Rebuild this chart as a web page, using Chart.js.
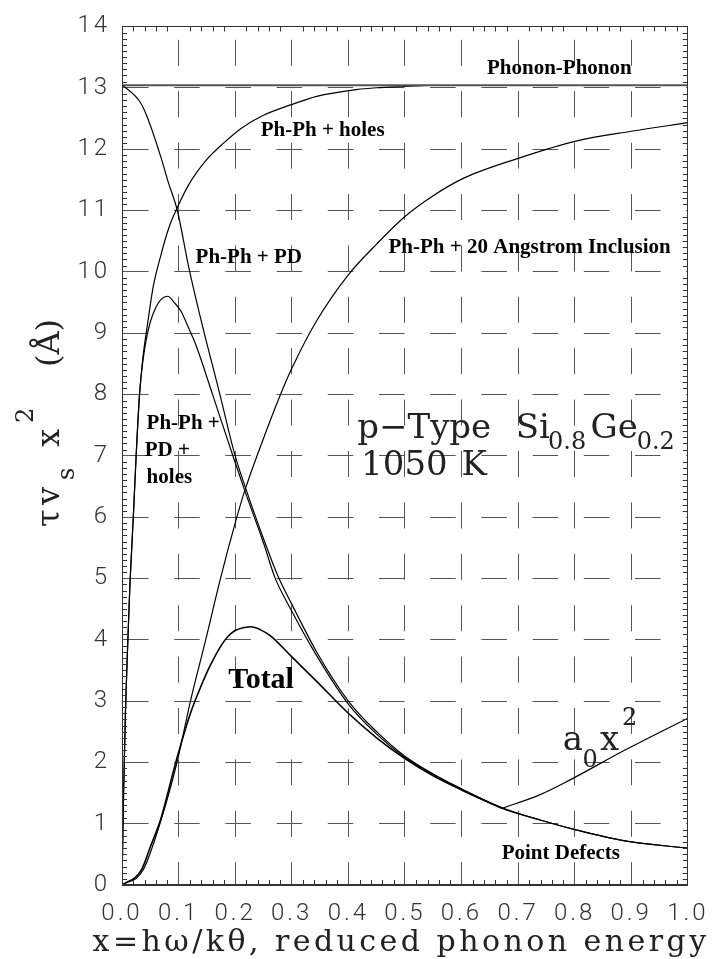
<!DOCTYPE html>
<html>
<head>
<meta charset="utf-8">
<script src="https://cdn.jsdelivr.net/npm/chart.js@4.4.0/dist/chart.umd.min.js"></script>
<style>
  html, body { margin: 0; padding: 0; background: #fff; }
</style>
</head>
<body>
<canvas id="myChart" width="719" height="959"></canvas>
<script>
// values: x = reduced phonon energy, y = tau*v_s*x^2 (Angstrom)
var phononX = [0, 1];
var phononY = [13.04, 13.04];

var holesX = [0, 0.003, 0.006, 0.01, 0.014, 0.02, 0.025, 0.031, 0.037, 0.046, 0.055, 0.069, 0.083, 0.098, 0.118, 0.15, 0.18, 0.211, 0.25, 0.298, 0.344, 0.414, 0.45, 0.5, 0.55];
var holesY = [0, 1.6, 2.8, 3.9, 4.9, 6.0, 7.0, 8.0, 8.6, 9.2, 9.75, 10.28, 10.72, 11.05, 11.42, 11.83, 12.1, 12.34, 12.55, 12.72, 12.86, 12.97, 13.0, 13.02, 13.04];

var pdX = [0, 0.031, 0.043, 0.069, 0.081, 0.098, 0.118, 0.14, 0.173, 0.199, 0.22, 0.25, 0.275, 0.3, 0.344, 0.4, 0.45, 0.5, 0.55, 0.6, 0.672, 0.739, 0.802, 0.889, 1.0];
var pdY = [13.05, 12.78, 12.56, 11.86, 11.48, 10.99, 10.07, 9.2, 8.0, 7.03, 6.43, 5.65, 5.05, 4.58, 3.8, 3.0, 2.5, 2.1, 1.81, 1.57, 1.26, 1.06, 0.9, 0.72, 0.6];

var pdHolesX = [0, 0.003, 0.006, 0.01, 0.014, 0.02, 0.025, 0.031, 0.037, 0.043, 0.05, 0.06, 0.069, 0.081, 0.092, 0.104, 0.115, 0.13, 0.16, 0.197, 0.217, 0.25, 0.27, 0.298, 0.344, 0.4, 0.45, 0.5, 0.55, 0.6, 0.672, 0.739, 0.802, 0.889, 1.0];
var pdHolesY = [0, 1.6, 2.8, 3.9, 4.9, 6.0, 7.0, 8.0, 8.55, 8.9, 9.18, 9.42, 9.55, 9.6, 9.5, 9.36, 9.14, 8.82, 8.0, 6.97, 6.43, 5.58, 5.02, 4.5, 3.74, 2.95, 2.46, 2.08, 1.8, 1.56, 1.25, 1.06, 0.9, 0.72, 0.6];

var inclX = [0, 0.037, 0.069, 0.098, 0.121, 0.148, 0.173, 0.2, 0.217, 0.25, 0.278, 0.3, 0.344, 0.4, 0.45, 0.5, 0.55, 0.605, 0.704, 0.802, 0.9, 1.0];
var inclY = [0, 0.24, 1.06, 2.03, 3.0, 4.0, 4.96, 5.9, 6.43, 7.28, 7.95, 8.42, 9.2, 9.95, 10.45, 10.9, 11.24, 11.53, 11.86, 12.13, 12.29, 12.43];

var totalX = [0, 0.034, 0.05, 0.069, 0.095, 0.121, 0.14, 0.156, 0.175, 0.188, 0.2, 0.217, 0.228, 0.245, 0.263, 0.298, 0.344, 0.4, 0.45, 0.5, 0.55, 0.6, 0.672];
var totalY = [0, 0.24, 0.62, 1.09, 2.0, 2.8, 3.25, 3.58, 3.9, 4.06, 4.15, 4.2, 4.21, 4.16, 4.06, 3.74, 3.32, 2.8, 2.4, 2.06, 1.78, 1.55, 1.25];

var a0X = [0.672, 0.738, 0.791, 0.889, 1.0];
var a0Y = [1.25, 1.47, 1.71, 2.2, 2.72];

var xTicks = [0, 0.1, 0.2, 0.3, 0.4, 0.5, 0.6, 0.7, 0.8, 0.9, 1.0];
var yTicks = [0, 1, 2, 3, 4, 5, 6, 7, 8, 9, 10, 11, 12, 13, 14];

function pts(xs, ys) {
  return xs.map(function (x, i) { return {x: x, y: ys[i]}; });
}

function line(label, xs, ys, extra) {
  var ds = {
    label: label,
    data: pts(xs, ys),
    borderColor: '#000',
    borderWidth: 1.2,
    pointRadius: 0,
    fill: false,
    cubicInterpolationMode: 'monotone'
  };
  for (var k in extra) ds[k] = extra[k];
  return ds;
}

var HERSHEY = '"DejaVu Serif", "Liberation Serif", serif';
var TIMES = '"Liberation Serif", "Times New Roman", serif';

function put(ctx, s, x, y, font, color) {
  ctx.font = font;
  ctx.fillStyle = color || '#000';
  ctx.textAlign = 'left';
  ctx.textBaseline = 'alphabetic';
  ctx.fillText(s, x, y);
}

var decorations = {
  id: 'decorations',
  beforeDraw: function (chart) {
    chart.ctx.letterSpacing = '3px';
  },
  afterDraw: function (chart) {
    var ctx = chart.ctx, a = chart.chartArea;
    var xs = chart.scales.x, ys = chart.scales.y;
    function px(v) { return xs.getPixelForValue(v); }
    function py(v) { return ys.getPixelForValue(v); }

    ctx.save();
    ctx.letterSpacing = '0px';

    // frame
    ctx.strokeStyle = '#333';
    ctx.lineWidth = 1;
    ctx.strokeRect(Math.round(a.left) + 0.5, Math.round(a.top) + 0.5,
                   Math.round(a.right - a.left) - 1, Math.round(a.bottom - a.top) - 1);

    // minor ticks, pointing inward
    ctx.beginPath();
    var i, p;
    for (i = 1; i < 140; i++) {
      if (i % 10 === 0) continue;
      p = Math.round(py(i / 10)) + 0.5;
      ctx.moveTo(a.left, p); ctx.lineTo(a.left + 5, p);
      ctx.moveTo(a.right, p); ctx.lineTo(a.right - 5, p);
    }
    for (i = 1; i < 50; i++) {
      if (i % 5 === 0) continue;
      p = Math.round(px(i / 50)) + 0.5;
      ctx.moveTo(p, a.bottom); ctx.lineTo(p, a.bottom - 5);
      ctx.moveTo(p, a.top); ctx.lineTo(p, a.top + 5);
    }
    ctx.stroke();

    // curve labels
    var bold = 'bold 21px ' + TIMES;
    put(ctx, 'Phonon-Phonon', px(0.645), py(13.22), bold);
    put(ctx, 'Ph-Ph + holes', px(0.245), py(12.21), bold);
    put(ctx, 'Ph-Ph + PD', px(0.130), py(10.14), bold);
    put(ctx, 'Ph-Ph + 20 Angstrom Inclusion', px(0.471), py(10.30), bold);
    put(ctx, 'Ph-Ph +', px(0.0435), py(7.44), bold);
    put(ctx, 'PD +', px(0.040), py(7.0), bold);
    put(ctx, 'holes', px(0.0435), py(6.56), bold);
    put(ctx, 'Total', px(0.188), py(3.22), 'bold 30px ' + TIMES);
    put(ctx, 'Point Defects', px(0.671), py(0.42), bold);

    // sample note
    var big = '34px ' + HERSHEY, small = '24px ' + HERSHEY, ink = '#222';
    put(ctx, 'p\u2212Type', px(0.4157), py(7.293), big, ink);
    put(ctx, 'Si', px(0.6957), py(7.293), big, ink);
    put(ctx, '0.8', px(0.753), py(7.114), small, ink);
    put(ctx, 'Ge', px(0.828), py(7.293), big, ink);
    put(ctx, '0.2', px(0.9096), py(7.114), small, ink);
    put(ctx, '1050', px(0.4226), py(6.69), big, ink);
    put(ctx, 'K', px(0.60), py(6.69), big, ink);

    // a0 x^2
    put(ctx, 'a', px(0.779), py(2.198), big, ink);
    put(ctx, '0', px(0.814), py(1.921), small, ink);
    put(ctx, 'x', px(0.845), py(2.198), big, ink);
    put(ctx, '2', px(0.8835), py(2.605), small, ink);

    // x axis title
    var xt = 'x=h\u03c9/k\u03b8, reduced phonon energy';
    ctx.font = '30px ' + HERSHEY;
    var w = ctx.measureText(xt).width;
    var sp = (617 - w) / xt.length;
    ctx.letterSpacing = sp.toFixed(2) + 'px';
    ctx.fillStyle = ink;
    ctx.textAlign = 'left';
    ctx.fillText(xt, 401 - 617 / 2, 951);
    ctx.letterSpacing = '0px';

    // y axis title, rotated
    ctx.translate(59, 0);
    ctx.rotate(-Math.PI / 2);
    var yf = '32px ' + HERSHEY, ys2 = '24px ' + HERSHEY;
    put(ctx, '\u03c4', -527, 0, yf, ink);
    put(ctx, 'v', -505, 0, yf, ink);
    put(ctx, 's', -480, 15, ys2, ink);
    put(ctx, 'x', -447, 0, yf, ink);
    put(ctx, '2', -423, -26, ys2, ink);
    put(ctx, '(\u00c5)', -367, 0, yf, ink);

    ctx.restore();
  }
};

var tickFont = {family: 'Roboto', size: 24, weight: '300'};

var ctx = document.getElementById('myChart').getContext('2d');
var myChart = new Chart(ctx, {
  type: 'line',
  data: {
    datasets: [
      line('Phonon-Phonon', phononX, phononY, {borderColor: '#555', borderWidth: 2, cubicInterpolationMode: 'default'}),
      line('Ph-Ph + holes', holesX, holesY),
      line('Ph-Ph + PD', pdX, pdY),
      line('Ph-Ph + PD + holes', pdHolesX, pdHolesY),
      line('Ph-Ph + 20 Angstrom Inclusion', inclX, inclY),
      line('Total', totalX, totalY, {borderWidth: 1.6}),
      line('a0x^2', a0X, a0Y)
    ]
  },
  options: {
    responsive: false,
    animation: false,
    layout: {padding: {left: 0, right: 22, top: 25, bottom: 0}},
    plugins: {
      legend: {display: false},
      tooltip: {enabled: false}
    },
    scales: {
      x: {
        type: 'linear',
        min: 0,
        max: 1,
        afterFit: function (s) { s.height = 74; },
        afterBuildTicks: function (s) { s.ticks = xTicks.map(function (v) { return {value: v}; }); },
        ticks: {
          autoSkip: false,
          maxRotation: 0,
          padding: 15,
          color: '#333',
          font: tickFont,
          callback: function (v) { return Number(v).toFixed(1); }
        },
        grid: {color: '#555', lineWidth: 1, drawTicks: false},
        border: {display: true, color: '#333', width: 1, dash: [26, 25.4], dashOffset: 38}
      },
      y: {
        min: 0,
        max: 14,
        afterFit: function (s) { s.width = 122; },
        afterBuildTicks: function (s) { s.ticks = yTicks.map(function (v) { return {value: v}; }); },
        ticks: {
          autoSkip: false,
          padding: 12,
          color: '#333',
          font: tickFont
        },
        grid: {color: '#555', lineWidth: 1, drawTicks: false},
        border: {display: true, color: '#333', width: 1, dash: [25.5, 25.7], dashOffset: 0}
      }
    }
  },
  plugins: [decorations]
});
</script>
</body>
</html>
